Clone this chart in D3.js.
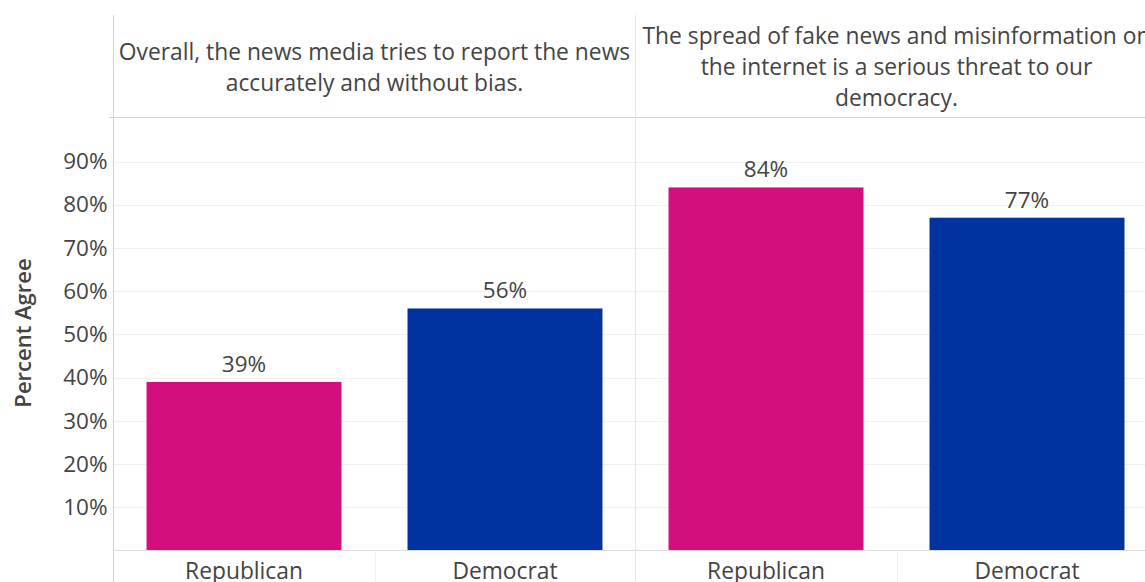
<!DOCTYPE html>
<html>
<head>
<meta charset="utf-8">
<script src="https://cdn.jsdelivr.net/npm/d3@7"></script>
<style>
  html, body { margin: 0; padding: 0; background: #fff; overflow: hidden; }
  svg { display: block; font-family: "Open Sans", sans-serif; }
</style>
</head>
<body>
<svg id="chart" width="1145" height="582"></svg>
<script>
// Survey statements (panel headers, pre-wrapped) and party categories
const statements = [
  ["Overall, the news media tries to report the news", "accurately and without bias."],
  ["The spread of fake news and misinformation on", "the internet is a serious threat to our", "democracy."]
];
const parties = ["Republican", "Democrat"];
const partyColors = ["#d40f7d", "#0033a0"];
// Percent agreeing, by statement then party
const agreeNews = [39, 56];
const agreeFake = [84, 77];
const yTicks = [10, 20, 30, 40, 50, 60, 70, 80, 90];
const yLabel = "Percent Agree";

const values = [agreeNews, agreeFake];

const svg = d3.select("#chart");
const textColor = "#444";
const font = "'Open Sans', sans-serif";

const plotLeft = 113.5, panelW = 522, headerTop = 15, headerBottom = 117.5, baseY = 550.5;
const yScale = d3.scaleLinear().domain([0, 90]).range([baseY, 161.5]);

// gridlines
const grid = svg.append("g");
grid.selectAll("line").data(yTicks).join("line")
  .attr("x1", plotLeft).attr("x2", 1145)
  .attr("y1", d => Math.round(yScale(d)) + 0.5).attr("y2", d => Math.round(yScale(d)) + 0.5)
  .attr("stroke", "#f0f0f0").attr("stroke-width", 1);

// y axis labels
const yAxis = d3.axisLeft(yScale).tickValues(yTicks).tickFormat(d => d + "%").tickSize(0).tickPadding(6);
const yg = svg.append("g").attr("transform", `translate(${plotLeft},0)`).call(yAxis);
yg.select(".domain").remove();
yg.selectAll("text").attr("font-size", 22.5).attr("fill", textColor).attr("font-family", font);

// y title
svg.append("text")
  .attr("transform", `translate(31,${333}) rotate(-90)`)
  .attr("text-anchor", "middle")
  .attr("font-size", 22).attr("font-weight", 600).attr("fill", textColor)
  .text(yLabel);

statements.forEach((lines, i) => {
  const x0 = plotLeft + i * panelW;
  const x = d3.scaleBand().domain(parties).range([x0, x0 + panelW]).paddingInner(0.253).paddingOuter(0.1265);
  const g = svg.append("g");

  // panel header text
  const nLines = lines.length;
  const lh = 31;
  const cy = (headerTop + headerBottom) / 2;
  g.selectAll("text.hdr").data(lines).join("text")
    .attr("class", "hdr")
    .attr("x", x0 + panelW / 2)
    .attr("y", (d, k) => cy + (k - (nLines - 1) / 2) * lh + 9)
    .attr("text-anchor", "middle")
    .attr("font-size", 22.8).attr("fill", textColor)
    .text(d => d);

  // category separators below baseline
  g.append("line")
    .attr("x1", Math.round(x0 + panelW / 2) + 0.5).attr("x2", Math.round(x0 + panelW / 2) + 0.5)
    .attr("y1", baseY).attr("y2", 582)
    .attr("stroke", "#f0f0f0");

  // bars
  g.selectAll("rect").data(parties).join("rect")
    .attr("x", d => x(d)).attr("width", x.bandwidth())
    .attr("y", (d, k) => yScale(values[i][k]))
    .attr("height", (d, k) => baseY - yScale(values[i][k]))
    .attr("fill", (d, k) => partyColors[k]);

  // value labels
  g.selectAll("text.val").data(parties).join("text")
    .attr("class", "val")
    .attr("x", d => x(d) + x.bandwidth() / 2)
    .attr("y", (d, k) => yScale(values[i][k]) - 10)
    .attr("text-anchor", "middle")
    .attr("font-size", 22.5).attr("fill", textColor)
    .text((d, k) => values[i][k] + "%");

  // category labels
  const xAxis = d3.axisBottom(x).tickSize(0).tickPadding(12);
  const xg = svg.append("g").attr("transform", `translate(0,${baseY})`).call(xAxis);
  xg.select(".domain").remove();
  xg.selectAll("text").attr("font-size", 22.8).attr("fill", textColor).attr("font-family", font);
});

// frame lines: header bottom, baseline, panel dividers
svg.append("line").attr("x1", 109).attr("x2", 1145).attr("y1", headerBottom).attr("y2", headerBottom).attr("stroke", "#d4d4d4");
svg.append("line").attr("x1", plotLeft).attr("x2", 1145).attr("y1", baseY).attr("y2", baseY).attr("stroke", "#dcdcdc");
[0, 1].forEach(i => {
  svg.append("line")
    .attr("x1", plotLeft + i * panelW).attr("x2", plotLeft + i * panelW)
    .attr("y1", headerTop).attr("y2", 582)
    .attr("stroke", i === 0 ? "#d4d4d4" : "#e6e6e6");
});
</script>
</body>
</html>
